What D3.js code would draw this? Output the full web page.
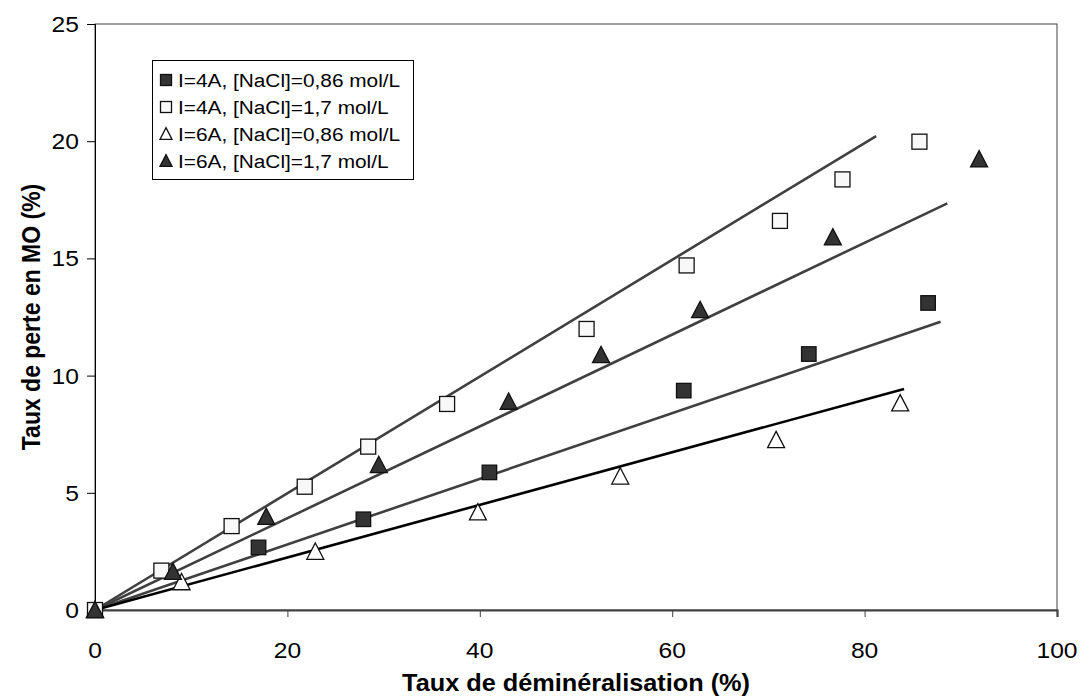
<!DOCTYPE html>
<html><head><meta charset="utf-8">
<script src="https://cdn.jsdelivr.net/npm/d3@7"></script>
<style>body{margin:0;background:#fff}svg{display:block}text{font-family:"Liberation Sans",Arial,sans-serif;fill:#000}</style>
</head><body>
<script>
// ---- data ----
const xTicks = [0, 20, 40, 60, 80, 100];
const yTicks = [0, 5, 10, 15, 20, 25];
const xTitle = "Taux de déminéralisation (%)";
const yTitle = "Taux de perte en MO (%)";
const seriesNames = ["I=4A, [NaCl]=0,86 mol/L", "I=4A, [NaCl]=1,7 mol/L", "I=6A, [NaCl]=0,86 mol/L", "I=6A, [NaCl]=1,7 mol/L"];
const s1 = [[0,0],[17.0,2.67],[27.9,3.87],[41.0,5.87],[61.2,9.36],[74.2,10.92],[86.6,13.1]];
const s2 = [[0,0],[6.9,1.68],[14.2,3.58],[21.8,5.26],[28.4,6.97],[36.6,8.79],[51.1,11.99],[61.5,14.7],[71.2,16.6],[77.7,18.37],[85.7,19.98]];
const s3 = [[0,0],[9.0,1.19],[22.9,2.49],[39.8,4.17],[54.6,5.7],[70.8,7.25],[83.7,8.82]];
const s4 = [[0,0],[8.1,1.63],[17.8,3.98],[29.5,6.19],[43.0,8.89],[52.6,10.88],[62.9,12.8],[76.7,15.9],[91.9,19.23]];
// fitted lines (start, end) in data units
const fit1 = [[0,0],[87.9,12.3]];
const fit2 = [[0,0],[81.2,20.22]];
const fit3 = [[0,0],[84.1,9.43]];
const fit4 = [[0,0],[88.6,17.35]];

const W = 1080, H = 697, SX = 1.12;
const svg = d3.select("body").append("svg").attr("width", W).attr("height", H);
const x = d3.scaleLinear().domain([0,100]).range([95,1057]);
const y = d3.scaleLinear().domain([0,25]).range([610,24]);

function txt(px, py, s, opts) {
  opts = opts || {};
  const sx = opts.sx || SX;
  const t = svg.append("text")
    .attr("transform", `translate(${px},${py}) ${opts.rot ? "rotate(-90) scale(1," + sx + ")" : "scale(" + sx + ",1)"}`)
    .attr("text-anchor", opts.anchor || "start")
    .style("font-size", (opts.size || 21) + "px")
    .text(s);
  if (opts.bold) t.style("font-weight", "bold");
  return t;
}

// plot border
svg.append("rect").attr("x", x(0)).attr("y", y(25)).attr("width", x(100)-x(0)).attr("height", y(0)-y(25))
  .attr("fill", "none").attr("stroke", "#404040").attr("stroke-width", 1);

// axes
const gx = svg.append("g").attr("transform", `translate(0,${y(0)})`)
  .call(d3.axisBottom(x).tickValues(xTicks).tickSize(7).tickFormat(""));
gx.select(".domain").attr("stroke", "#404040").attr("stroke-width", 2.2);
gx.selectAll(".tick line").attr("stroke", "#404040").attr("stroke-width", 1);
const gy = svg.append("g").attr("transform", `translate(${x(0)},0)`)
  .call(d3.axisLeft(y).tickValues(yTicks).tickSize(8).tickFormat(""));
gy.select(".domain").attr("stroke", "#000").attr("stroke-width", 1);
gy.selectAll(".tick line").attr("stroke", "#000");

xTicks.forEach(v => txt(x(v), 658, String(v), {anchor: "middle", size: 22}));
yTicks.forEach(v => txt(79, y(v) + 8, String(v), {anchor: "end", size: 22}));

txt((x(0)+x(100))/2, 691, xTitle, {anchor: "middle", bold: true, size: 23, sx: 1.1});
txt(40, (y(0)+y(25))/2, yTitle, {anchor: "middle", bold: true, rot: true, size: 23, sx: 1.1});

// fitted lines
const line = d3.line().x(d => x(d[0])).y(d => y(d[1]));
[[fit2,"#404040"],[fit4,"#404040"],[fit1,"#404040"],[fit3,"#000"]].forEach(([d,c]) => {
  svg.append("path").attr("d", line(d)).attr("fill","none").attr("stroke", c).attr("stroke-width", 2.6);
});

// markers
const filled = "#333333", open = "#f8f8f8";
function square(g, cx, cy, s, fill) {
  g.append("rect").attr("x", cx - s/2).attr("y", cy - s/2).attr("width", s).attr("height", s)
    .attr("fill", fill).attr("stroke", "#111").attr("stroke-width", 1.3);
}
function tri(g, cx, cy, s, fill) {
  const h = s * 0.9;
  g.append("path").attr("d", `M${cx},${cy - h/2 - 1}L${cx + s/2},${cy + h/2}L${cx - s/2},${cy + h/2}Z`)
    .attr("fill", fill).attr("stroke", "#111").attr("stroke-width", 1.3).attr("stroke-linejoin","miter");
}
const gm = svg.append("g");
s3.forEach(d => tri(gm, x(d[0]), y(d[1]), 17, "#fff"));
s1.forEach(d => square(gm, x(d[0]), y(d[1]), 14.5, filled));
s2.forEach(d => square(gm, x(d[0]), y(d[1]), 15, open));
s4.forEach(d => tri(gm, x(d[0]), y(d[1]), 17, filled));

// legend
const lg = svg.append("g");
lg.append("rect").attr("x", 152.5).attr("y", 60.5).attr("width", 261).attr("height", 119)
  .attr("fill", "#fff").attr("stroke", "#000").attr("stroke-width", 1);
const rowY = [80, 107, 134, 161];
const mk = [(cx,cy)=>square(lg,cx,cy,11,filled),(cx,cy)=>square(lg,cx,cy,11,open),(cx,cy)=>tri(lg,cx,cy,12,"#fff"),(cx,cy)=>tri(lg,cx,cy,12,filled)];
seriesNames.forEach((n,i) => {
  mk[i](166, rowY[i]);
  txt(178, rowY[i] + 6.5, n, {size: 18.6});
});
</script>
</body></html>
